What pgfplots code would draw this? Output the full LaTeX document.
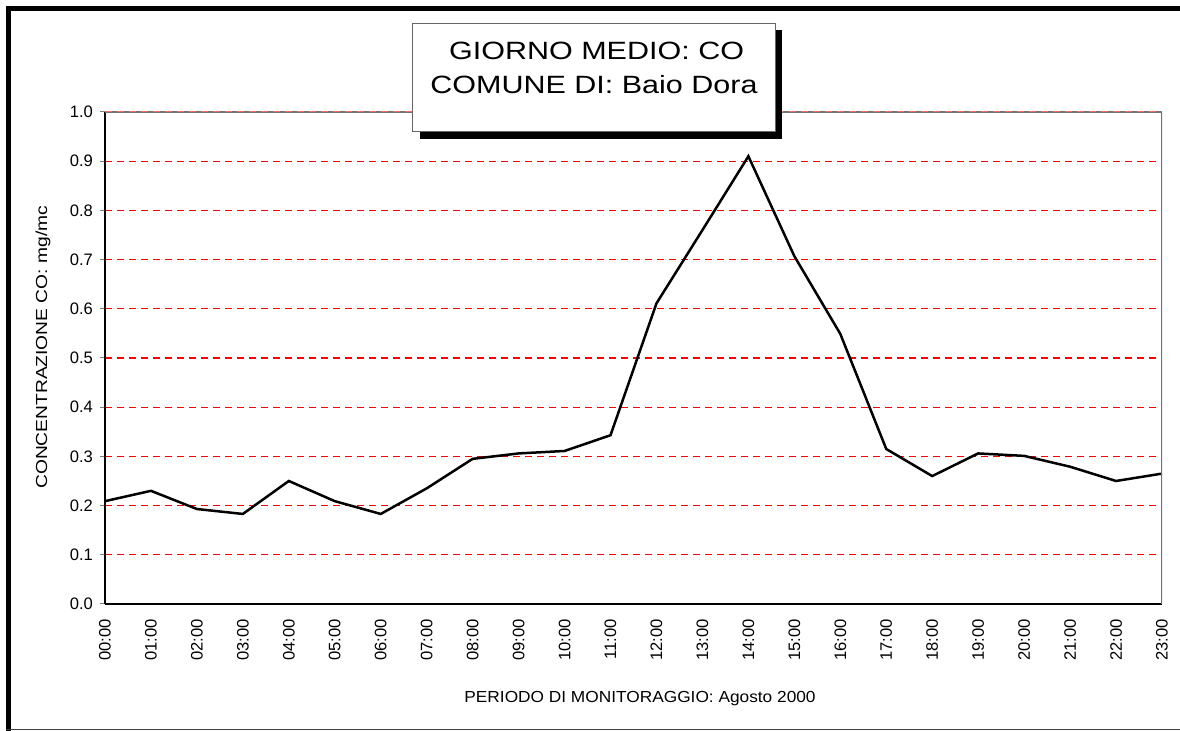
\documentclass[border=0pt]{standalone}
\usepackage{fontspec}
\setmainfont{Liberation Sans}
\newfontfamily\titlefont[FakeStretch=1.22]{Liberation Sans}
\newfontfamily\labelfont[FakeStretch=1.08]{Liberation Sans}
\newfontfamily\ylabelfont[FakeStretch=1.2]{Liberation Sans}
\usepackage{pgfplots}
\pgfplotsset{compat=1.18}

\begin{document}
\begin{tikzpicture}
\path[use as bounding box] (0,0) rectangle (590pt,365.5pt);
% outer frame
\fill (3pt,0) rectangle (5.5pt,362.5pt);
\fill (3pt,360pt) rectangle (590pt,362.5pt);
\draw[line width=0.6pt, black!75] (3pt,0.8pt) -- (590pt,0.8pt);

\begin{axis}[
    at={(52.5pt,63.5pt)}, anchor=south west,
    scale only axis, width=528.5pt, height=246pt,
    xmin=0, xmax=23, ymin=0, ymax=1,
    axis lines*=left,
    axis line style={line width=0.6pt},
    xtick={0,...,23},
    xticklabels={00:00,01:00,02:00,03:00,04:00,05:00,06:00,07:00,08:00,09:00,10:00,11:00,12:00,13:00,14:00,15:00,16:00,17:00,18:00,19:00,20:00,21:00,22:00,23:00},
    xtick style={draw=none},
    xticklabel style={rotate=90, anchor=east, inner xsep=0pt, xshift=-5pt, font=\fontsize{8.3}{10}\selectfont},
    ytick={0,0.1,0.2,0.3,0.4,0.5,0.6,0.7,0.8,0.9,1.0},
    yticklabel style={/pgf/number format/.cd, fixed, fixed zerofill, precision=1, assume math mode=true, /tikz/.cd, font=\fontsize{8.3}{10}\selectfont},
    tick align=outside, major tick length=2.5pt,
    ytick style={line width=0.5pt},
    ymajorgrids,
    y grid style={draw=red, line width=0.55pt, dash pattern=on 3.5pt off 2.5pt},
  ]
\addplot[black, line width=1.25pt, sharp plot] coordinates {
  (0,0.209) (1,0.230) (2,0.193) (3,0.183) (4,0.250) (5,0.209)
  (6,0.183) (7,0.235) (8,0.295) (9,0.306) (10,0.311) (11,0.343)
  (12,0.611) (13,0.760) (14,0.910) (15,0.707) (16,0.549) (17,0.315)
  (18,0.260) (19,0.306) (20,0.301) (21,0.279) (22,0.250) (23,0.265)
};
\draw[black!55, line width=0.6pt] (rel axis cs:0,1) -- (rel axis cs:1,1) -- (rel axis cs:1,0);
\draw[red!60, line width=0.5pt, dash pattern=on 3.5pt off 2.5pt] (rel axis cs:0,1) -- (rel axis cs:1,1);
\end{axis}

% axis titles
\node[rotate=90, anchor=base, font=\ylabelfont\fontsize{8}{9.6}\selectfont] at (23.6pt,191.8pt) {CONCENTRAZIONE CO: mg/mc};
\node[anchor=base, font=\labelfont\fontsize{8}{9.6}\selectfont] at (320pt,14pt) {PERIODO DI MONITORAGGIO: Agosto 2000};

% title box with shadow
\fill[black] (209.85pt,296.15pt) rectangle (391pt,350.35pt);
\draw[fill=white, draw=black!60, line width=0.5pt] (206.35pt,299.65pt) rectangle (387.5pt,353.85pt);
\node[anchor=base, font=\titlefont\fontsize{12.5}{15}\selectfont, inner sep=0pt] at (298.3pt,335.5pt) {GIORNO MEDIO: CO};
\node[anchor=base, font=\titlefont\fontsize{12.5}{15}\selectfont, inner sep=0pt] at (297pt,318.9pt) {COMUNE DI: Baio Dora};
\end{tikzpicture}
\end{document}
